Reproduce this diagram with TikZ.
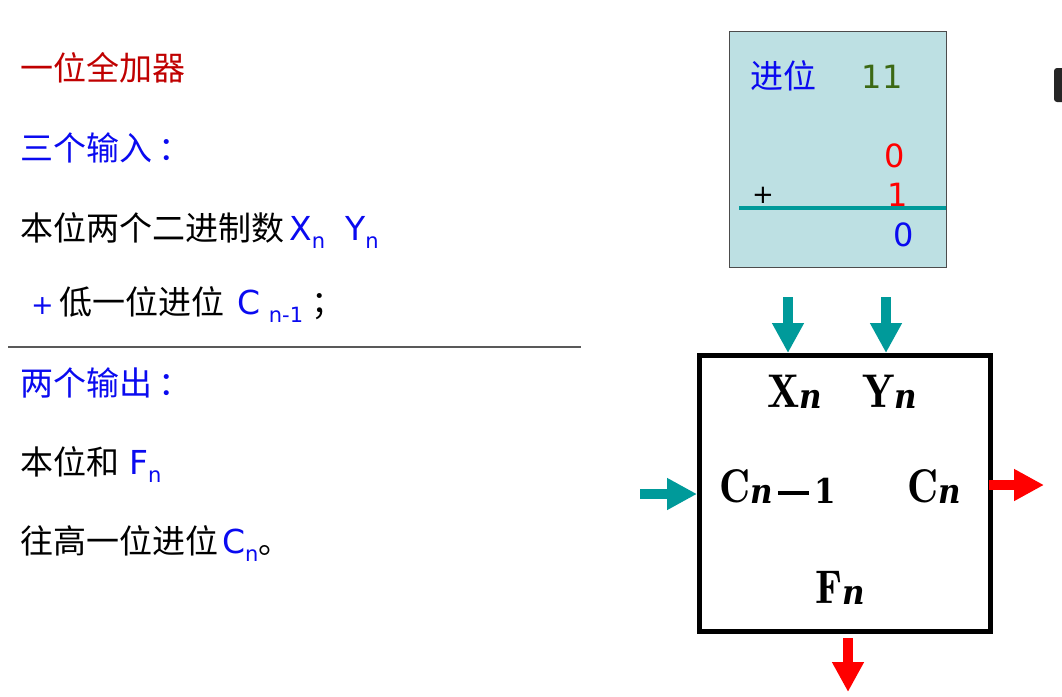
\documentclass[tikz,border=0pt]{standalone}
\usepackage{fontspec}
\usepackage{graphicx}
\usetikzlibrary{arrows.meta}
\newfontfamily\cjk{Noto Sans CJK SC}
\newfontfamily\lat{DejaVu Sans}
\newfontfamily\dvs{DejaVu Serif}
\definecolor{tred}{HTML}{C00000}
\definecolor{tblue}{HTML}{0A0AF0}
\definecolor{tgreen}{HTML}{3C6914}
\definecolor{pred}{HTML}{FF0000}
\definecolor{teal1}{HTML}{009A9A}
\definecolor{boxfill}{HTML}{BDE0E3}
\newcommand\sbs[1]{\raisebox{-0.25em}{\fontsize{21}{22}\selectfont\lat #1}}
\newcommand\bsub[1]{\raisebox{-1.5pt}{\fontsize{31}{33}\selectfont #1}}
\newcommand\blbl[2]{\scalebox{1}[1.1]{\fontsize{43}{46}\selectfont$\mathbf{#1}$\bsub{#2}}}
\newcommand\bn{{\dvs\bfseries\itshape n}}
\begin{document}
\begin{tikzpicture}[x=1pt,y=-1pt,
  txt/.style={anchor=base west, inner sep=0pt, font=\fontsize{33}{36}\selectfont\cjk},
  dig/.style={anchor=base, inner sep=0pt, font=\fontsize{32}{36}\selectfont\lat},
  lbl/.style={anchor=base west, inner sep=0pt},
  inarrow/.style={draw=teal1, line width=10pt, -{Triangle[length=30pt,width=30pt]}},
  outarrow/.style={draw=pred, line width=10pt, -{Triangle[length=30pt,width=30pt]}}]
\useasboundingbox (0,0) rectangle (1062,696);
\fill[white] (0,0) rectangle (1062,696);
% left text
\node[txt, text=tred] (t1) at (20,80) {一位全加器};
\node[txt, text=tblue] (t2) at (20,160) {三个输入\hspace{6pt}：};
\node[txt] (t3) at (20,240) {本位两个二进制数\textcolor{tblue}{\lat\hspace{5pt}X\sbs{n}\hspace{20pt}Y\sbs{n}}};
\node[txt] (t4) at (31,314) {\textcolor{tblue}{\fontsize{27}{30}\selectfont\lat +}\hspace{6pt}低一位进位\hspace{13pt}\textcolor{tblue}{\lat C\hspace{8pt}\sbs{n-1}}\hspace{8pt}；};
\coordinate (hl1) at (8,347);
\coordinate (hl2) at (581,347);
\draw[draw=black!65, line width=1.2pt] (hl1) -- (hl2);
\node[txt, text=tblue] (t5) at (20,395) {两个输出\hspace{6pt}：};
\node[txt] (t6) at (20,474) {本位和\hspace{10pt}\textcolor{tblue}{\lat F\sbs{n}}};
\node[txt] (t7) at (20,553) {往高一位进位\hspace{4pt}\textcolor{tblue}{\lat C\sbs{n}}。};
% carry box
\node[draw=black!70, line width=0.8pt, fill=boxfill, minimum width=217pt, minimum height=236pt, inner sep=0pt] (cb) at (837.5,149) {};
\node[txt, text=tblue] (jw) at (750,88) {进位};
\node[dig, text=tgreen] (c11) at (882,88) {11};
\node[dig, text=pred] (a0) at (895,167) {0};
\node[dig, text=pred] (a1) at (898,206) {1};
\node[dig, font=\fontsize{26}{30}\selectfont\lat] (pl) at (763,203) {+};
\coordinate (ul) at (739,208);
\draw[draw=teal1, line width=3.5pt] (ul) -- (ul -| cb.east);
\node[dig, text=tblue] (s0) at (904,246) {0};
% artifact at right edge
\fill[black!85, rounded corners=3pt] (1054,68) rectangle (1072,102);
% full adder box
\node[draw, line width=5pt, minimum width=291pt, minimum height=276pt, inner sep=0pt] (fa) at (845,493.5) {};
\node[lbl] (lx) at (767,407) {\blbl{X}{\bn}};
\node[lbl] (ly) at (862,407) {\blbl{Y}{\bn}};
\node[lbl] (lc1) at (719,502) {\blbl{C}{\bn\,\rule[0.26em]{1em}{0.11em}\,{\dvs\bfseries 1}}};
\node[lbl] (lc) at (907,502) {\blbl{C}{\bn}};
\node[lbl] (lf) at (815,603) {\blbl{F}{\bn}};
% arrows
\coordinate (xin) at (788,297);
\coordinate (yin) at (886,297);
\coordinate (cin) at (640,494);
\coordinate (cout) at (1044,485);
\coordinate (fout) at (848,692);
\draw[inarrow] (xin) -- (xin |- fa.north);
\draw[inarrow] (yin) -- (yin |- fa.north);
\draw[inarrow] (cin) -- (cin -| fa.west);
\draw[outarrow] ([xshift=-4pt]cout -| fa.east) -- (cout);
\draw[outarrow] ([yshift=-4pt]fout |- fa.south) -- (fout);
\end{tikzpicture}
\end{document}
